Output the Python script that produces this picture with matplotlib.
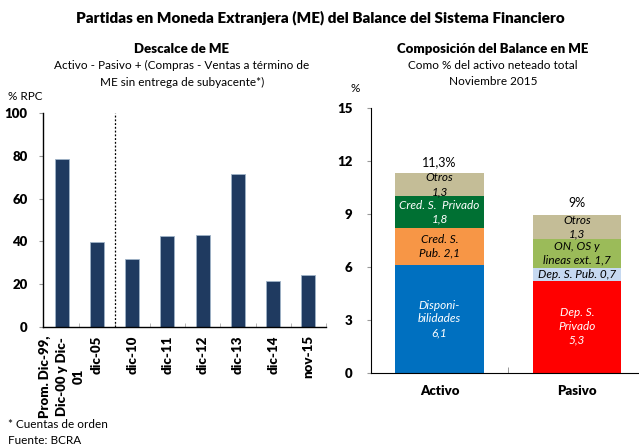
import matplotlib
matplotlib.use("Agg")
import matplotlib.pyplot as plt
import numpy as np

plt.rcParams['font.family'] = ['Lato', 'DejaVu Sans']

# ---------------- data ----------------
left_cats = ["Prom. Dic-99,\nDic-00 y Dic-\n01", "dic-05", "dic-10", "dic-11",
             "dic-12", "dic-13", "dic-14", "nov-15"]
left_vals = [78.5, 39.8, 31.8, 42.3, 42.9, 71.4, 21.5, 24.2]
left_yticks = [0, 20, 40, 60, 80, 100]

right_cats = ["Activo", "Pasivo"]
activo_vals = [6.1, 2.1, 1.8, 1.3]
activo_labels = ["Disponi-\nbilidades\n6,1", "Cred. S.\nPub. 2,1",
                 "Cred. S.  Privado\n1,8", "Otros\n1,3"]
activo_colors = ["#0070C0", "#F79646", "#007033", "#C4BD97"]
activo_txt = ["white", "black", "white", "black"]
pasivo_vals = [5.22, 0.73, 1.63, 1.36]
pasivo_labels = ["Dep. S.\nPrivado\n5,3", "Dep. S. Pub. 0,7",
                 "ON, OS y\nlineas ext. 1,7", "Otros\n1,3"]
pasivo_colors = ["#FF0000", "#C6D9F1", "#9BBB59", "#C4BD97"]
pasivo_txt = ["white", "black", "black", "black"]
totals = ["11,3%", "9%"]
right_yticks = [0, 3, 6, 9, 12, 15]

W, H = 639, 445
fig = plt.figure(figsize=(W / 100, H / 100), dpi=100)
BOLD = "heavy"

# ---------------- left chart ----------------
axl = fig.add_axes([43 / W, 1 - 327 / H, (326 - 43) / W, (327 - 113) / H])
x = np.arange(len(left_cats))
axl.bar(x, left_vals, width=0.4, color="#1F3A60", edgecolor="#9FB3C8", linewidth=0.6)
axl.set_xlim(-0.53, 7.5)
axl.set_ylim(0, 100)
axl.axvline(1.5, color="black", linestyle=(0, (1.5, 1.5)), linewidth=0.9)
for s in ["top", "right"]:
    axl.spines[s].set_visible(False)
axl.spines["left"].set_linewidth(1.0)
axl.spines["bottom"].set_linewidth(1.0)
axl.set_yticks(left_yticks)
axl.set_yticklabels([str(v) for v in left_yticks], fontweight=BOLD, fontsize=9.5)
axl.tick_params(axis="y", length=3, color="#999999", pad=8)
axl.set_xticks(np.arange(-0.5, 8, 1)[1:], minor=True)
axl.tick_params(axis="x", which="minor", direction="in", length=3, color="#AAAAAA")
axl.set_xticks(x)
axl.tick_params(axis="x", which="major", length=0, pad=6)
labs = axl.set_xticklabels(left_cats, rotation=90, fontweight=BOLD, fontsize=9.5,
                           ha="center", va="top", multialignment="center")
for t in labs:
    t.set_linespacing(1.45)

# ---------------- right chart ----------------
axr = fig.add_axes([370.7 / W, 1 - 372.7 / H, 1 - 370.7 / W, (372.7 - 108) / H])
xr = np.arange(len(right_cats))
bw = 0.64
for i, (vals, labs_, cols, tcols) in enumerate([
        (activo_vals, activo_labels, activo_colors, activo_txt),
        (pasivo_vals, pasivo_labels, pasivo_colors, pasivo_txt)]):
    bottom = 0
    for v, lab, c, tc in zip(vals, labs_, cols, tcols):
        axr.bar(xr[i], v, bottom=bottom, width=bw, color=c, edgecolor="none")
        axr.text(xr[i], bottom + v / 2, lab, ha="center", va="center", color=tc,
                 fontstyle="italic", fontsize=8.5, linespacing=1.3)
        bottom += v
    axr.text(xr[i], bottom + 0.65, totals[i], ha="center", va="center", fontsize=9)
axr.set_xlim(-0.5, 1.45)
axr.set_ylim(0, 15)
for s in ["top", "right"]:
    axr.spines[s].set_visible(False)
axr.set_yticks(right_yticks)
axr.set_yticklabels([str(v) for v in right_yticks], fontweight=BOLD, fontsize=9.5)
axr.tick_params(axis="y", length=3, color="#999999", pad=10)
axr.set_xticks([0.5], minor=True)
axr.tick_params(axis="x", which="minor", direction="in", length=4, color="#888888")
axr.set_xticks(xr)
axr.set_xticklabels(right_cats, fontweight=BOLD, fontsize=9.5)
axr.tick_params(axis="x", which="major", length=0, pad=9)

# ---------------- texts ----------------
fig.text(320 / W, 1 - 18 / H,
         "Partidas en Moneda Extranjera (ME) del Balance del Sistema Financiero",
         ha="center", va="center", fontsize=11, fontweight=BOLD)
fig.text(182 / W, 1 - 49 / H, "Descalce de ME", ha="center", va="center",
         fontsize=9.5, fontweight=BOLD)
fig.text(182 / W, 1 - 65.5 / H, "Activo - Pasivo + (Compras - Ventas a término de",
         ha="center", va="center", fontsize=8.5)
fig.text(182 / W, 1 - 82 / H, "ME sin entrega de subyacente*)",
         ha="center", va="center", fontsize=8.5)
fig.text(8 / W, 1 - 97 / H, "% RPC", ha="left", va="center", fontsize=8.5)

fig.text(493 / W, 1 - 49 / H, "Composición del Balance en ME", ha="center",
         va="center", fontsize=9.5, fontweight=BOLD)
fig.text(493 / W, 1 - 65.5 / H, "Como % del activo neteado total", ha="center",
         va="center", fontsize=8.5)
fig.text(493 / W, 1 - 81.5 / H, "Noviembre 2015", ha="center", va="center",
         fontsize=8.5)
fig.text(355 / W, 1 - 88 / H, "%", ha="center", va="center", fontsize=8.5)

fig.text(8 / W, 1 - 425 / H, "* Cuentas de orden", ha="left", va="center", fontsize=8.5)
fig.text(8 / W, 1 - 440 / H, "Fuente: BCRA", ha="left", va="center", fontsize=8.5)

fig.savefig("out.png", dpi=100, facecolor="white")
